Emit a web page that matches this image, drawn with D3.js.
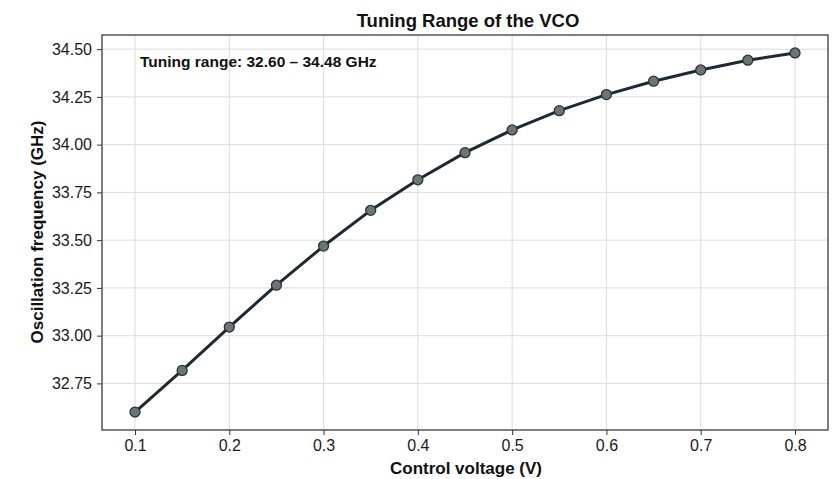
<!DOCTYPE html>
<html>
<head>
<meta charset="utf-8">
<script src="https://cdn.jsdelivr.net/npm/d3@7"></script>
<style>
  html, body { margin: 0; padding: 0; background: #fff; }
  svg { display: block; font-family: "Liberation Sans", Arial, Helvetica, sans-serif; }
</style>
</head>
<body>
<svg id="chart" width="838" height="479"></svg>
<script>
const voltages = [0.10, 0.15, 0.20, 0.25, 0.30, 0.35, 0.40, 0.45, 0.50, 0.55, 0.60, 0.65, 0.70, 0.75, 0.80];
const frequencies = [32.60, 32.818, 33.045, 33.264, 33.469, 33.656, 33.816, 33.958, 34.077, 34.178, 34.262, 34.332, 34.391, 34.442, 34.48];
const xTicks = [0.1, 0.2, 0.3, 0.4, 0.5, 0.6, 0.7, 0.8];
const yTicks = [32.75, 33.00, 33.25, 33.50, 33.75, 34.00, 34.25, 34.50];
const titleText = "Tuning Range of the VCO";
const xLabel = "Control voltage (V)";
const yLabel = "Oscillation frequency (GHz)";
const annotation = "Tuning range: 32.60 \u2013 34.48 GHz";

const svg = d3.select("#chart");
const m = { left: 102, right: 828, top: 35, bottom: 430 };

const x = d3.scaleLinear().domain([0.065, 0.835]).range([m.left, m.right]);
const y = d3.scaleLinear().domain([32.506, 34.574]).range([m.bottom, m.top]);

// grid
const g = svg.append("g");
g.selectAll("line.vg").data(xTicks).join("line")
  .attr("x1", d => x(d)).attr("x2", d => x(d))
  .attr("y1", m.top).attr("y2", m.bottom)
  .attr("stroke", "#d9d9d9").attr("stroke-width", 0.9);
g.selectAll("line.hg").data(yTicks).join("line")
  .attr("y1", d => y(d)).attr("y2", d => y(d))
  .attr("x1", m.left).attr("x2", m.right)
  .attr("stroke", "#d9d9d9").attr("stroke-width", 0.9);

// axes
const xAxis = d3.axisBottom(x).tickValues(xTicks).tickFormat(d3.format(".1f")).tickSizeOuter(0).tickSize(5).tickPadding(5);
const yAxis = d3.axisLeft(y).tickValues(yTicks).tickFormat(d3.format(".2f")).tickSizeOuter(0).tickSize(5).tickPadding(5);

const gx = svg.append("g").attr("transform", `translate(0,${m.bottom})`).call(xAxis);
const gy = svg.append("g").attr("transform", `translate(${m.left},0)`).call(yAxis);
[gx, gy].forEach(a => {
  a.select(".domain").remove();
  a.selectAll(".tick line").attr("stroke", "#333").attr("stroke-width", 1);
  a.selectAll(".tick text").attr("fill", "#1a1a1a").style("font-size", "16px");
});

// frame
svg.append("rect")
  .attr("x", m.left).attr("y", m.top)
  .attr("width", m.right - m.left).attr("height", m.bottom - m.top)
  .attr("fill", "none").attr("stroke", "#3a3a3a").attr("stroke-width", 1.3);

// line
const line = d3.line().x((d, i) => x(voltages[i])).y(d => y(d));
svg.append("path").datum(frequencies)
  .attr("d", line)
  .attr("fill", "none").attr("stroke", "#1e2935").attr("stroke-width", 3)
  .attr("stroke-linejoin", "round");

// markers
svg.selectAll("circle.pt").data(frequencies).join("circle")
  .attr("cx", (d, i) => x(voltages[i])).attr("cy", d => y(d))
  .attr("r", 5)
  .attr("fill", "#6c7670").attr("stroke", "#28323a").attr("stroke-width", 1.3);

// title
svg.append("text").attr("x", 468).attr("y", 27)
  .attr("text-anchor", "middle").attr("font-weight", "bold")
  .style("font-size", "18.5px").attr("fill", "#111").text(titleText);

// annotation
svg.append("text").attr("x", 140).attr("y", 67)
  .attr("font-weight", "bold").style("font-size", "15.5px").attr("fill", "#111")
  .text(annotation);

// axis labels
svg.append("text").attr("x", 466).attr("y", 474)
  .attr("text-anchor", "middle").attr("font-weight", "bold")
  .style("font-size", "17px").attr("fill", "#111").text(xLabel);
svg.append("text")
  .attr("transform", `translate(43,${232}) rotate(-90)`)
  .attr("text-anchor", "middle").attr("font-weight", "bold")
  .style("font-size", "17px").attr("fill", "#111").text(yLabel);
</script>
</body>
</html>
